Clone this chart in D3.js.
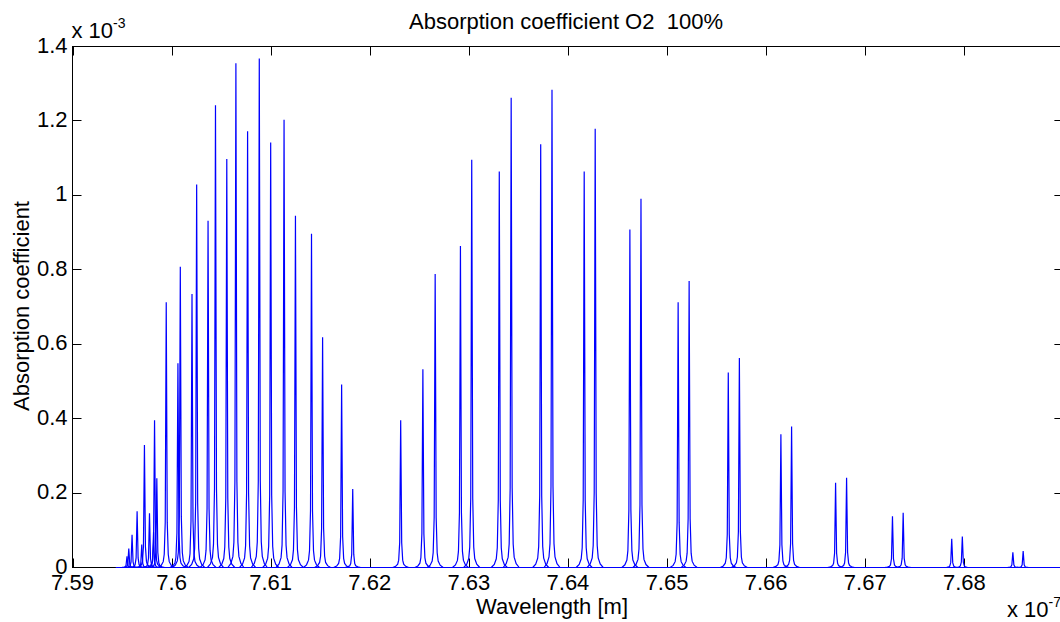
<!DOCTYPE html>
<html>
<head>
<meta charset="utf-8">
<script src="https://cdn.jsdelivr.net/npm/d3@7"></script>
<style>
  html, body { margin: 0; padding: 0; background: #fff; }
  svg { display: block; font-family: "Liberation Sans", Arial, Helvetica, sans-serif; }
</style>
</head>
<body>
<svg id="chart" width="1060" height="622"></svg>
<script>
// Line centre wavelengths (units of 1e-7 m) and peak absorption (units of 1e-3)
const lineWavelength = [
  7.59550, 7.59568, 7.59601, 7.59652, 7.59699, 7.59726, 7.59777, 7.59818, 7.59828, 7.59851,
  7.59946, 7.60064, 7.60088, 7.60206, 7.60253, 7.60368, 7.60443, 7.60557, 7.60649, 7.60767,
  7.60885, 7.61000, 7.61135, 7.61250, 7.61412, 7.61524, 7.61716, 7.61828,
  7.62312, 7.62536, 7.62660, 7.62915, 7.63029, 7.63307, 7.63427, 7.63725, 7.63839,
  7.64164, 7.64275, 7.64625, 7.64737, 7.65112, 7.65223, 7.65618, 7.65730, 7.66149, 7.66257,
  7.66701, 7.66812, 7.67275, 7.67383, 7.67873, 7.67980, 7.68490, 7.68594
];
const lineAbsorption = [
  0.030, 0.051, 0.088, 0.151, 0.062, 0.329, 0.146, 0.095, 0.396, 0.240,
  0.713, 0.549, 0.808, 0.735, 1.029, 0.932, 1.242, 1.098, 1.355, 1.172,
  1.368, 1.142, 1.203, 0.945, 0.897, 0.619, 0.492, 0.211,
  0.396, 0.533, 0.789, 0.864, 1.096, 1.064, 1.262, 1.137, 1.284,
  1.064, 1.179, 0.908, 0.991, 0.713, 0.770, 0.524, 0.563, 0.358, 0.379,
  0.228, 0.241, 0.138, 0.147, 0.077, 0.083, 0.041, 0.044
];
// Spectrum extent (1e-7 m)
const spectrumRange = [7.59436, 7.69];
// Axis ticks
const xTicks = [7.59, 7.60, 7.61, 7.62, 7.63, 7.64, 7.65, 7.66, 7.67, 7.68, 7.69];
const xTickLabels = ["7.59", "7.6", "7.61", "7.62", "7.63", "7.64", "7.65", "7.66", "7.67", "7.68", ""];
const yTicks = [0, 0.2, 0.4, 0.6, 0.8, 1.0, 1.2, 1.4];
const yTickLabels = ["0", "0.2", "0.4", "0.6", "0.8", "1", "1.2", "1.4"];

// Line-profile glyph (pixel offset, fraction of peak) – purely a drawing shape
const glyph = [[-8,0],[-5,0.008],[-3,0.022],[-2,0.05],[-1,0.17],[0,1],[1,0.17],[2,0.05],[3,0.022],[5,0.008],[8,0]];

const svg = d3.select("#chart");
const L = 72.5, R = 1063.4, T = 46.5, B = 567.5;
const x = d3.scaleLinear().domain([7.59, 7.69]).range([L, R]);
const y = d3.scaleLinear().domain([0, 1.4]).range([B, T]);
const FS = 22;
const blue = "#0000ff";

svg.append("rect").attr("width", 1060).attr("height", 622).attr("fill", "#fff");

// Axes box + ticks (MATLAB style, ticks inward on all sides)
const axG = svg.append("g").attr("stroke", "#000").attr("stroke-width", 1).attr("fill", "none");
axG.append("rect").attr("x", L).attr("y", T).attr("width", R - L).attr("height", B - T);
const tl = 9;
xTicks.forEach(v => {
  const px = Math.round(x(v)) + 0.5;
  axG.append("line").attr("x1", px).attr("x2", px).attr("y1", B).attr("y2", B - tl);
  axG.append("line").attr("x1", px).attr("x2", px).attr("y1", T).attr("y2", T + tl);
});
yTicks.forEach(v => {
  const py = Math.round(y(v) - 0.5) + 0.5;
  axG.append("line").attr("x1", L).attr("x2", L + tl).attr("y1", py).attr("y2", py);
  axG.append("line").attr("x1", R).attr("x2", R - tl).attr("y1", py).attr("y2", py);
});

// Spectrum: baseline + one profile glyph per line
const plotG = svg.append("g").attr("fill", "none").attr("stroke", blue).attr("stroke-width", 1.2);
plotG.append("line")
  .attr("x1", x(spectrumRange[0])).attr("x2", x(spectrumRange[1]))
  .attr("y1", y(0)).attr("y2", y(0));
const lineGen = d3.line();
lineWavelength.forEach((w, i) => {
  const cx = x(w), h = lineAbsorption[i];
  const pts = glyph.map(([dx, f]) => [cx + dx, y(h * f)]);
  plotG.append("path").attr("d", lineGen(pts));
});

// Tick labels
const txt = svg.append("g").attr("fill", "#000").attr("font-size", FS);
xTicks.forEach((v, i) => {
  if (!xTickLabels[i]) return;
  txt.append("text").attr("x", x(v)).attr("y", B + 22).attr("text-anchor", "middle").text(xTickLabels[i]);
});
yTicks.forEach((v, i) => {
  txt.append("text").attr("x", L - 5).attr("y", y(v) + 6).attr("text-anchor", "end").text(yTickLabels[i]);
});

// Exponent labels
const e1 = txt.append("text").attr("x", L - 1).attr("y", 38);
e1.append("tspan").text("x 10");
e1.append("tspan").attr("font-size", 14).attr("dy", -10).text("-3");
const e2 = txt.append("text").attr("x", 1007).attr("y", 617);
e2.append("tspan").text("x 10");
e2.append("tspan").attr("font-size", 14).attr("dy", -10).text("-7");

// Title and axis labels
txt.append("text").attr("x", 566).attr("y", 29).attr("text-anchor", "middle").attr("xml:space", "preserve").text("Absorption coefficient O2  100%");
txt.append("text").attr("x", 552).attr("y", 614).attr("text-anchor", "middle").text("Wavelength [m]");
txt.append("text").attr("transform", "translate(29,306) rotate(-90)").attr("text-anchor", "middle").text("Absorption coefficient");
</script>
</body>
</html>
